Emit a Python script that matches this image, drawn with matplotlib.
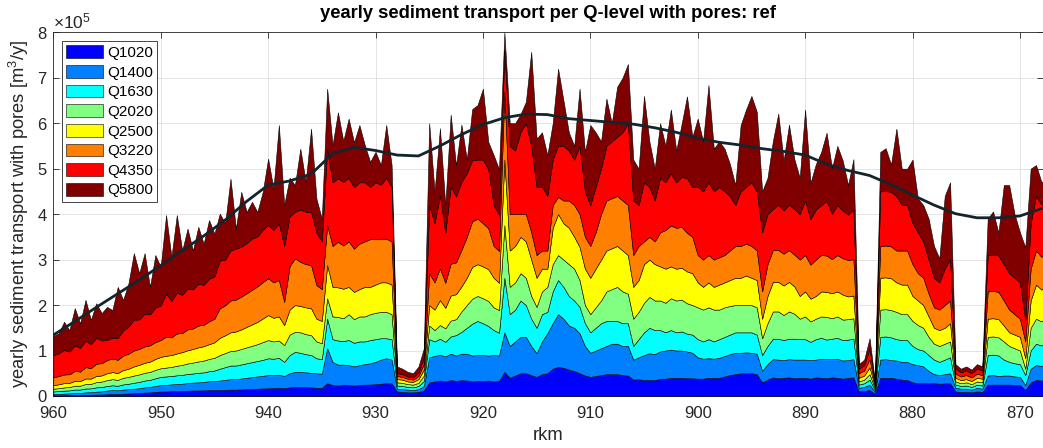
import numpy as np
import matplotlib
matplotlib.use("Agg")
import matplotlib.pyplot as plt
from matplotlib.ticker import ScalarFormatter

plt.rcParams["font.family"] = ["Liberation Sans", "DejaVu Sans"]
plt.rcParams["mathtext.fontset"] = "custom"
plt.rcParams["mathtext.rm"] = "Liberation Sans"
plt.rcParams["mathtext.it"] = "Liberation Sans:italic"

# river kilometre, every 0.5 km (960.0 ... 867.5)
rkm = np.arange(960.0, 867.25, -0.5)

# yearly transport per discharge level, in units of 1e4 m3/y
UNIT = 1e4
q1020 = [
    .15, .15, .18, .2, .22, .22, .25, .28, .3, .32,
    .4, .45, .45, .5, .55, .6, .65, .75, .8, .9,
    1.0, 1.0, 1.05, 1.1, 1.1, 1.15, 1.2, 1.2, 1.25, 1.3,
    1.3, 1.3, 1.35, 1.4, 1.4, 1.45, 1.5, 1.55, 1.6, 1.65,
    1.7, 1.75, 1.8, 1.7, 1.9, 2.0, 2.0, 1.95, 1.9, 1.8,
    1.8, 2.8, 2.4, 2.3, 2.5, 2.4, 2.3, 2.4, 2.5, 2.5,
    2.6, 2.7, 2.8, 2.8, 1.0, 0.9, 0.8, 0.8, 0.9, 1.2,
    3.0, 3.2, 3.4, 3.2, 3.5, 3.3, 3.5, 3.4, 3.2, 3.3,
    3.3, 3.4, 3.2, 3.3, 5.3, 4.0, 4.5, 5.0, 5.0, 4.6,
    4.2, 4.8, 5.0, 6.0, 6.4, 6.2, 5.8, 5.5, 5.0, 4.5,
    4.2, 4.4, 4.6, 4.8, 4.8, 4.8, 4.6, 4.5, 3.6, 3.7,
    3.5, 3.5, 3.5, 3.8, 3.8, 4.0, 4.0, 4.0, 3.9, 3.9,
    3.8, 3.8, 4.0, 4.0, 4.0, 4.3, 4.6, 4.8, 5.0, 5.0,
    5.0, 4.8, 3.0, 3.6, 4.1, 3.9, 4.0, 4.1, 3.9, 4.0,
    4.0, 3.8, 4.1, 4.0, 3.9, 4.1, 4.0, 3.8, 4.0, 4.1,
    1.0, 1.1, 1.3, 0.5, 4.0, 4.0, 4.0, 3.8, 3.6, 3.5,
    3.0, 2.8, 2.8, 2.8, 2.8, 2.7, 2.8, 2.8, 1.0, 0.9,
    0.9, 0.8, 1.0, 0.9, 2.5, 2.5, 2.5, 2.5, 2.5, 2.4,
    2.4, 1.3, 3.0, 3.5, 3.4, 3.6,
]
q1400 = [
    .3, .32, .35, .38, .45, .45, .55, .55, .65, .7,
    .8, .85, .8, .9, .95, 1.0, 1.05, 1.15, 1.2, 1.3,
    1.4, 1.45, 1.5, 1.55, 1.6, 1.7, 1.75, 1.8, 1.85, 1.95,
    2.0, 2.1, 2.2, 2.3, 2.3, 2.4, 2.5, 2.6, 2.7, 2.8,
    2.9, 2.85, 2.9, 2.7, 3.1, 3.3, 3.3, 3.25, 3.2, 3.2,
    3.1, 7.7, 5.1, 4.6, 4.4, 4.4, 4.2, 4.4, 4.5, 4.7,
    4.9, 5.3, 5.5, 5.2, 0.6, 0.6, 0.6, 0.5, 0.6, 1.0,
    5.5, 5.6, 5.7, 5.5, 5.8, 5.6, 5.8, 5.9, 5.7, 5.7,
    5.7, 5.5, 5.8, 5.6, 8.7, 7.0, 7.5, 8.0, 8.0, 6.4,
    5.2, 7.2, 8.8, 10.0, 11.6, 10.8, 9.7, 9.5, 8.8, 6.5,
    5.3, 5.6, 5.9, 6.2, 6.7, 6.7, 6.4, 6.5, 4.4, 4.8,
    5.5, 5.9, 5.7, 6.0, 6.2, 6.2, 6.0, 6.0, 5.9, 5.6,
    4.7, 4.4, 4.3, 4.2, 4.4, 4.5, 4.6, 4.7, 4.5, 4.6,
    4.5, 4.5, 2.5, 3.4, 4.0, 4.1, 3.9, 4.0, 4.1, 4.0,
    4.0, 4.1, 3.9, 4.2, 4.2, 4.0, 4.2, 4.0, 3.9, 4.0,
    0.8, 0.9, 1.2, 0.4, 4.0, 4.1, 3.9, 4.0, 3.9, 4.0,
    4.0, 4.0, 3.7, 2.7, 2.0, 1.9, 2.0, 2.2, 0.8, 0.7,
    0.7, 0.6, 0.8, 0.7, 2.0, 2.1, 1.9, 2.0, 2.0, 1.9,
    1.8, 1.1, 3.0, 3.3, 3.2, 3.4,
]
q1630 = [
    .55, .6, .65, .65, .75, .75, .85, .85, .95, .95,
    1.0, 1.05, 1.0, 1.15, 1.2, 1.3, 1.4, 1.5, 1.55, 1.7,
    1.8, 1.85, 1.85, 1.9, 1.95, 2.0, 2.0, 2.1, 2.1, 2.2,
    2.3, 2.6, 2.8, 3.0, 3.0, 3.1, 3.2, 3.3, 3.4, 3.5,
    3.7, 3.6, 3.7, 3.1, 4.0, 4.4, 4.2, 4.0, 3.9, 3.3,
    3.2, 6.5, 5.0, 5.3, 5.2, 5.5, 5.2, 5.2, 5.0, 5.1,
    5.0, 4.7, 4.4, 4.5, 0.7, 0.7, 0.6, 0.6, 0.7, 1.1,
    4.0, 3.2, 3.5, 3.2, 3.8, 4.5, 4.8, 5.7, 7.0, 7.5,
    7.0, 6.5, 5.5, 5.0, 12.0, 7.0, 7.0, 8.0, 7.0, 6.0,
    5.6, 6.0, 4.7, 7.0, 7.5, 7.0, 6.5, 6.0, 5.8, 5.0,
    4.5, 5.0, 5.5, 5.5, 5.0, 5.0, 5.0, 5.0, 3.0, 4.0,
    5.0, 5.6, 5.3, 4.7, 4.0, 4.3, 4.0, 4.2, 3.9, 4.0,
    4.0, 3.8, 4.2, 3.8, 4.1, 4.2, 4.3, 4.5, 4.5, 4.4,
    4.5, 4.2, 3.5, 4.0, 4.5, 4.6, 4.4, 4.5, 4.6, 4.5,
    4.5, 4.0, 4.5, 4.6, 4.3, 4.5, 4.6, 4.5, 4.5, 4.5,
    0.7, 0.8, 1.1, 0.4, 5.0, 5.0, 5.0, 4.7, 4.8, 4.8,
    4.0, 3.5, 3.5, 3.5, 3.2, 2.9, 3.2, 3.5, 0.7, 0.6,
    0.7, 0.6, 0.7, 0.7, 4.5, 4.5, 4.5, 3.5, 3.0, 2.9,
    2.8, 2.2, 4.0, 4.7, 4.5, 4.8,
]
q2020 = [
    .6, .65, .7, .75, .85, .85, 1.0, 1.0, 1.15, 1.2,
    1.3, 1.35, 1.3, 1.45, 1.5, 1.6, 1.65, 1.7, 1.75, 1.85,
    1.9, 1.95, 2.0, 2.1, 2.2, 2.3, 2.4, 2.5, 2.6, 2.7,
    2.8, 3.0, 3.1, 3.2, 3.3, 3.4, 3.5, 3.6, 3.7, 3.9,
    4.0, 3.8, 3.8, 3.7, 4.5, 4.4, 4.5, 4.4, 4.4, 3.7,
    3.5, 4.5, 5.0, 5.2, 5.0, 5.7, 5.2, 5.5, 5.5, 5.7,
    5.8, 5.8, 5.8, 5.5, 0.7, 0.7, 0.6, 0.6, 0.7, 1.2,
    3.0, 2.5, 3.0, 3.0, 3.5, 3.5, 4.5, 5.0, 5.5, 5.5,
    5.5, 5.5, 5.0, 5.0, 11.6, 6.0, 6.0, 6.0, 6.0, 5.0,
    4.6, 5.0, 5.5, 6.0, 5.5, 6.0, 7.0, 7.0, 5.9, 4.0,
    4.0, 4.5, 5.0, 6.5, 7.0, 7.5, 7.0, 6.5, 6.0, 6.0,
    6.5, 6.8, 6.5, 6.5, 6.5, 7.0, 7.0, 7.0, 6.7, 6.5,
    7.0, 7.0, 7.0, 7.0, 6.5, 6.5, 6.3, 6.0, 6.0, 6.0,
    6.0, 6.0, 3.7, 5.0, 6.0, 6.0, 5.5, 6.0, 5.5, 4.5,
    5.0, 4.5, 4.5, 4.7, 5.0, 4.5, 4.7, 4.5, 4.5, 4.5,
    0.7, 0.8, 1.2, 0.4, 6.0, 6.0, 6.0, 6.0, 5.7, 5.7,
    5.5, 5.3, 5.0, 4.0, 3.5, 3.5, 3.5, 3.5, 0.7, 0.6,
    0.7, 0.6, 0.7, 0.7, 4.0, 4.0, 4.0, 4.0, 3.5, 3.3,
    3.0, 1.4, 5.0, 5.5, 5.3, 5.6,
]
q2500 = [
    .8, .85, .95, .9, 1.05, 1.0, 1.2, 1.15, 1.35, 1.35,
    1.5, 1.55, 1.5, 1.7, 1.8, 2.0, 2.1, 2.2, 2.25, 2.4,
    2.5, 2.6, 2.6, 2.7, 2.8, 2.9, 3.0, 3.1, 3.15, 3.25,
    3.4, 3.8, 3.9, 4.1, 4.2, 4.3, 4.5, 4.7, 4.9, 5.2,
    5.5, 5.2, 5.3, 4.4, 5.5, 5.9, 5.8, 5.9, 5.9, 5.0,
    4.9, 7.3, 6.5, 6.5, 6.5, 6.0, 6.0, 6.0, 6.5, 6.0,
    6.2, 6.5, 6.5, 6.5, 0.7, 0.7, 0.6, 0.6, 0.8, 1.3,
    4.5, 4.5, 5.5, 4.5, 5.5, 5.5, 5.5, 6.0, 7.0, 7.0,
    7.0, 7.0, 6.5, 6.0, 14.4, 8.0, 8.0, 8.0, 8.0, 8.0,
    6.4, 5.0, 4.0, 8.0, 9.0, 8.0, 8.0, 7.0, 7.3, 8.0,
    8.0, 8.5, 9.0, 9.0, 9.0, 9.0, 9.0, 8.5, 7.0, 7.0,
    8.5, 8.2, 8.0, 7.5, 7.5, 7.0, 7.0, 7.0, 7.0, 7.0,
    5.5, 5.0, 5.5, 5.0, 5.5, 5.5, 5.7, 6.0, 6.0, 6.5,
    6.0, 6.0, 4.3, 6.0, 6.5, 6.5, 6.5, 6.5, 6.0, 5.0,
    5.5, 5.0, 5.0, 5.5, 5.5, 5.5, 5.5, 5.5, 5.0, 5.0,
    0.8, 0.9, 1.5, 0.4, 7.0, 7.0, 7.0, 6.5, 6.5, 6.5,
    5.5, 5.4, 5.0, 4.5, 3.5, 3.5, 3.5, 4.0, 0.8, 0.7,
    0.7, 0.7, 0.8, 0.8, 4.0, 4.0, 4.0, 3.5, 3.0, 3.0,
    3.0, 2.3, 6.0, 7.5, 7.0, 7.4,
]
q3220 = [
    1.7, 1.8, 1.9, 1.9, 2.2, 2.1, 2.5, 2.3, 2.7, 2.7,
    2.9, 3.0, 2.9, 3.2, 3.3, 3.5, 3.5, 3.6, 3.6, 3.7,
    3.7, 4.2, 3.9, 4.4, 4.2, 4.6, 4.5, 4.8, 4.7, 5.0,
    5.2, 6.5, 6.6, 7.0, 7.0, 7.2, 7.4, 7.6, 7.8, 8.0,
    8.1, 7.8, 8.0, 5.1, 9.5, 10.3, 9.7, 9.5, 9.5, 7.4,
    7.0, 8.8, 9.0, 10.0, 9.5, 10.0, 9.5, 10.0, 10.0, 10.5,
    10.0, 9.6, 9.6, 9.5, 0.7, 0.6, 0.6, 0.5, 0.7, 1.2,
    7.0, 6.0, 7.0, 5.5, 7.0, 7.0, 8.0, 9.0, 10.0, 10.0,
    9.5, 9.0, 7.0, 7.0, 15.0, 8.0, 7.0, 5.0, 6.0, 6.0,
    5.0, 4.0, 4.0, 5.0, 3.8, 5.0, 6.0, 7.0, 7.2, 7.0,
    7.0, 8.0, 10.0, 11.0, 11.0, 11.0, 11.0, 11.0, 7.0, 7.5,
    5.0, 5.0, 5.0, 7.5, 8.5, 9.0, 9.0, 9.0, 8.5, 8.0,
    6.0, 6.0, 6.0, 6.0, 6.0, 6.0, 6.5, 7.0, 7.0, 7.0,
    7.0, 6.5, 6.0, 7.0, 7.0, 7.0, 7.0, 7.0, 7.0, 8.0,
    8.0, 7.5, 8.0, 8.0, 8.0, 7.5, 8.0, 8.0, 8.0, 8.0,
    1.0, 1.1, 1.8, 0.4, 7.0, 7.0, 7.0, 7.0, 7.5, 7.5,
    7.0, 6.0, 6.0, 5.0, 4.5, 4.5, 5.0, 5.0, 0.9, 0.8,
    0.9, 0.8, 0.9, 0.8, 6.0, 6.0, 6.0, 5.5, 5.0, 4.5,
    4.0, 3.7, 7.0, 7.5, 7.2, 7.3,
]
q4350 = [
    4.9, 5.0, 5.4, 5.0, 5.6, 5.2, 5.8, 5.3, 5.7, 5.0,
    4.4, 4.6, 4.8, 5.5, 6.0, 6.8, 6.5, 7.2, 6.8, 7.6,
    7.6, 9.5, 8.0, 9.0, 8.4, 9.0, 8.6, 9.2, 8.8, 9.4,
    9.3, 10.5, 10.0, 11.0, 11.2, 11.0, 11.0, 11.3, 11.0, 11.5,
    11.7, 11.5, 12.5, 12.3, 11.0, 10.2, 11.5, 11.5, 11.7, 11.6,
    10.5, 16.8, 14.0, 14.0, 14.0, 14.0, 13.5, 13.5, 13.0, 11.5,
    12.5, 11.9, 13.4, 12.0, 0.6, 0.6, 0.5, 0.5, 0.7, 1.5,
    15.0, 13.0, 16.0, 11.0, 17.0, 14.5, 15.0, 14.0, 13.5, 13.0,
    14.0, 13.0, 9.0, 8.0, 9.0, 15.0, 14.0, 18.0, 20.0, 19.0,
    15.0, 14.0, 12.0, 10.0, 11.2, 12.0, 11.0, 10.0, 15.0, 10.0,
    9.0, 10.0, 10.0, 12.0, 12.5, 13.0, 15.0, 18.0, 12.0, 9.0,
    13.0, 11.0, 9.0, 12.0, 10.5, 11.5, 10.0, 11.0, 12.0, 11.0,
    15.0, 15.0, 16.0, 15.0, 15.5, 14.0, 12.0, 9.0, 12.0, 12.5,
    14.0, 13.0, 13.0, 11.0, 9.0, 10.0, 9.5, 10.0, 10.0, 10.0,
    12.0, 10.0, 11.0, 11.0, 12.0, 10.0, 11.0, 10.5, 10.0, 11.0,
    1.0, 1.2, 2.3, 0.4, 12.0, 12.0, 12.0, 12.0, 10.0, 10.0,
    9.0, 9.0, 8.0, 7.5, 6.5, 6.0, 8.0, 9.0, 1.1, 0.9,
    1.0, 0.9, 1.1, 1.0, 8.0, 8.0, 8.0, 8.0, 8.0, 8.0,
    8.0, 4.7, 10.0, 12.0, 11.5, 11.0,
]
q5800 = [
    4.2, 4.4, 6.2, 4.7, 8.2, 5.4, 9.0, 5.3, 7.6, 6.0,
    7.3, 6.05, 11.25, 6.7, 9.5, 14.6, 10.15, 13.3, 6.05, 11.55,
    8.5, 17.25, 9.7, 17.05, 9.75, 13.15, 8.55, 12.5, 9.05, 12.9,
    9.4, 10.3, 8.05, 15.8, 4.4, 12.05, 6.9, 8.05, 5.4, 8.35,
    14.6, 9.1, 21.6, 9.0, 8.5, 5.9, 13.4, 6.6, 18.3, 7.4,
    5.0, 13.2, 8.2, 14.5, 9.0, 13.0, 9.9, 12.6, 8.2, 5.5,
    6.7, 4.3, 11.6, 4.8, 1.5, 1.2, 1.0, 0.9, 1.4, 2.0,
    18.0, 6.9, 14.8, 6.0, 15.8, 6.8, 12.6, 3.0, 11.2, 12.0,
    15.6, 6.0, 11.0, 10.0, 4.0, 5.0, 6.0, 4.0, 4.7, 20.7,
    10.6, 12.0, 9.0, 8.0, 17.0, 10.0, 4.0, 3.0, 12.6, 8.7,
    17.6, 12.0, 6.0, 10.4, 4.0, 11.0, 12.0, 13.0, 9.0, 8.0,
    19.0, 10.0, 7.0, 12.0, 8.0, 14.0, 7.0, 11.6, 18.0, 11.0,
    15.0, 11.0, 21.4, 9.4, 10.0, 9.4, 7.0, 4.4, 14.6, 17.0,
    19.0, 17.5, 9.0, 8.0, 15.0, 20.0, 11.0, 17.6, 11.0, 8.0,
    20.0, 8.0, 10.0, 11.7, 15.0, 10.0, 13.0, 11.0, 6.5, 11.0,
    1.0, 1.2, 2.3, 0.3, 8.7, 9.4, 6.0, 14.8, 8.0, 8.0,
    14.0, 7.4, 8.0, 9.0, 7.0, 5.3, 16.0, 17.0, 1.0, 0.8,
    0.9, 0.8, 1.0, 0.9, 8.0, 9.5, 5.0, 17.4, 19.4, 14.0,
    11.0, 16.0, 12.0, 6.8, 5.0, 4.5,
]

levels = ["Q1020", "Q1400", "Q1630", "Q2020", "Q2500", "Q3220", "Q4350", "Q5800"]
series = [q1020, q1400, q1630, q2020, q2500, q3220, q4350, q5800]
level_colors = ["#0000ff", "#0080ff", "#00ffff", "#80ff80",
                "#ffff00", "#ff8000", "#ff0000", "#800000"]

# smoothed reference curve, every 2 km (960 ... 868), units of 1e4 m3/y
trend_rkm = np.arange(960, 867, -2)
trend = [13.4, 16.4, 19.5, 22.5, 25.5, 28.7, 32.0, 35.2, 38.7, 42.8,
         46.4, 47.3, 48.8, 53.3, 54.7, 54.0, 53.0, 52.8, 55.0, 57.5,
         59.7, 61.2, 62.0, 61.9, 61.0, 60.6, 60.2, 59.8, 59.0, 58.0,
         56.7, 55.8, 55.2, 54.4, 53.8, 53.0, 51.0, 49.6, 48.5, 46.5,
         44.2, 42.0, 40.1, 39.2, 39.2, 39.6, 41.2]

fig = plt.figure(figsize=(10.43, 4.48), dpi=100)
ax = fig.add_axes([0.0511, 0.1161, 0.9489, 0.8118])

ax.stackplot(rkm, *[np.asarray(s) * UNIT for s in series],
             colors=level_colors, labels=levels,
             edgecolor="black", linewidth=0.4)
ax.plot(trend_rkm, np.asarray(trend) * UNIT, color="#13242d", lw=2.0)

ax.set_xlim(960, 867.85)
ax.set_ylim(0, 8e5)
ax.set_xticks(np.arange(960, 868, -10))
ax.set_yticks(np.arange(0, 8.01e5, 1e5))

fmt = ScalarFormatter(useMathText=True)
fmt.set_powerlimits((0, 0))
ax.yaxis.set_major_formatter(fmt)
ax.yaxis.get_offset_text().set_fontsize(12.5)
ax.yaxis.get_offset_text().set_color("#262626")

ax.grid(True, color="#dedede", lw=0.6)
ax.set_axisbelow(True)
ax.tick_params(direction="in", length=4, width=0.6, top=True, right=True,
               labelsize=12, colors="#262626")
ax.tick_params(axis="x", pad=7.5)
ax.tick_params(axis="y", pad=4)
for sp in ax.spines.values():
    sp.set_color("#262626")
    sp.set_linewidth(0.6)
    sp.set_zorder(0.6)

ax.set_xlabel("rkm", fontsize=13.2, color="#262626", labelpad=4)
ax.set_ylabel("yearly sediment transport with pores [m$^3$/y]",
              fontsize=13.2, color="#262626", labelpad=4)
fig.text(548 / 1043, 1 - 18 / 448,
         "yearly sediment transport per Q-level with pores: ref",
         ha="center", va="baseline", fontsize=13.2, fontweight="bold",
         color="black")

leg = ax.legend(loc="upper left", fontsize=11, frameon=True, fancybox=False,
                edgecolor="#262626", framealpha=1, borderpad=0.3,
                labelspacing=0.33, handlelength=2.4, handleheight=0.9,
                handletextpad=0.25, borderaxespad=0.55)
leg.get_frame().set_linewidth(0.6)

fig.savefig("out.png", dpi=100)
